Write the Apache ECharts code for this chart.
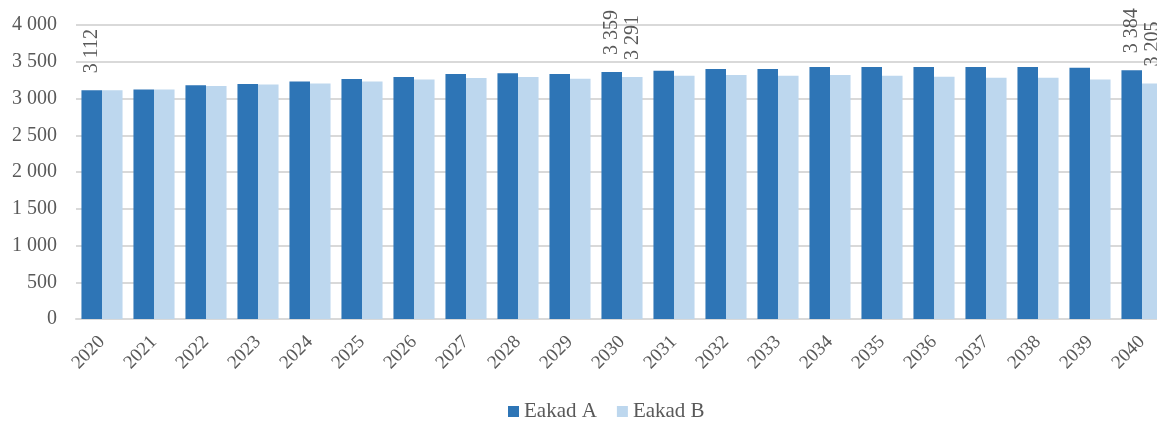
<!DOCTYPE html>
<html>
<head>
    <meta charset="utf-8">
    <title>Eakad</title>
    <script src="https://cdn.jsdelivr.net/npm/echarts@6/dist/echarts.min.js"></script>
    <style>
        html, body { margin: 0; padding: 0; background: #fff; }
        #main { width: 1157px; height: 421px; }
    </style>
</head>
<body>
    <div id="main"></div>
    <script>
        var years = ['2020', '2021', '2022', '2023', '2024', '2025', '2026', '2027', '2028', '2029', '2030',
            '2031', '2032', '2033', '2034', '2035', '2036', '2037', '2038', '2039', '2040'];
        var eakadA = [3112, 3124, 3179, 3198, 3230, 3266, 3293, 3334, 3342, 3334, 3359,
            3378, 3401, 3401, 3428, 3428, 3428, 3428, 3428, 3419, 3384];
        var eakadB = [3112, 3122, 3170, 3189, 3203, 3230, 3257, 3280, 3293, 3270, 3291,
            3311, 3320, 3311, 3320, 3311, 3297, 3284, 3284, 3257, 3205];
        // which years get a value label, per series
        var labelsA = ['2020', '2030', '2040'];
        var labelsB = ['2030', '2040'];

        var fontName = '"Liberation Serif", "DejaVu Serif", serif';
        var gray = '#595959';

        function fmt(v) {
            return String(v).replace(/\B(?=(\d{3})+(?!\d))/g, ' ');
        }

        function withLabels(values, shown) {
            return values.map(function (v, i) {
                var item = { value: v };
                if (shown.indexOf(years[i]) >= 0) {
                    item.label = { show: true };
                }
                return item;
            });
        }

        var barLabel = {
            show: false,
            position: 'top',
            rotate: 90,
            align: 'left',
            verticalAlign: 'middle',
            distance: 17,
            color: gray,
            fontFamily: fontName,
            fontSize: 20,
            formatter: function (p) { return fmt(p.value); }
        };

        var myChart = echarts.init(document.getElementById('main'));

        var option = {
            animation: false,
            grid: { left: 76, top: 25, bottom: 102, right: -11, outerBoundsMode: 'none' },
            legend: {
                bottom: -6,
                left: 503,
                itemWidth: 11,
                itemHeight: 11,
                itemGap: 20,
                icon: 'rect',
                textStyle: { color: gray, fontFamily: fontName, fontSize: 21 },
                data: ['Eakad A', 'Eakad B']
            },
            xAxis: {
                type: 'category',
                data: years,
                axisLine: { lineStyle: { color: '#d9d9d9', width: 2 } },
                axisTick: { show: false },
                axisLabel: {
                    rotate: 45,
                    margin: 20,
                    color: gray,
                    fontFamily: fontName,
                    fontSize: 19
                }
            },
            yAxis: {
                type: 'value',
                min: 0,
                max: 4000,
                interval: 500,
                axisLine: { show: false },
                axisTick: { show: false },
                splitLine: { lineStyle: { color: '#d9d9d9', width: 2 } },
                axisLabel: {
                    margin: 19,
                    color: gray,
                    fontFamily: fontName,
                    fontSize: 20,
                    formatter: fmt
                }
            },
            series: [{
                name: 'Eakad A',
                type: 'bar',
                data: withLabels(eakadA, labelsA),
                itemStyle: { color: '#2E75B6' },
                barGap: '0%',
                barCategoryGap: '21%',
                label: barLabel
            }, {
                name: 'Eakad B',
                type: 'bar',
                data: withLabels(eakadB, labelsB),
                itemStyle: { color: '#BDD7EE' },
                label: barLabel
            }]
        };

        myChart.setOption(option);
    </script>
</body>
</html>
